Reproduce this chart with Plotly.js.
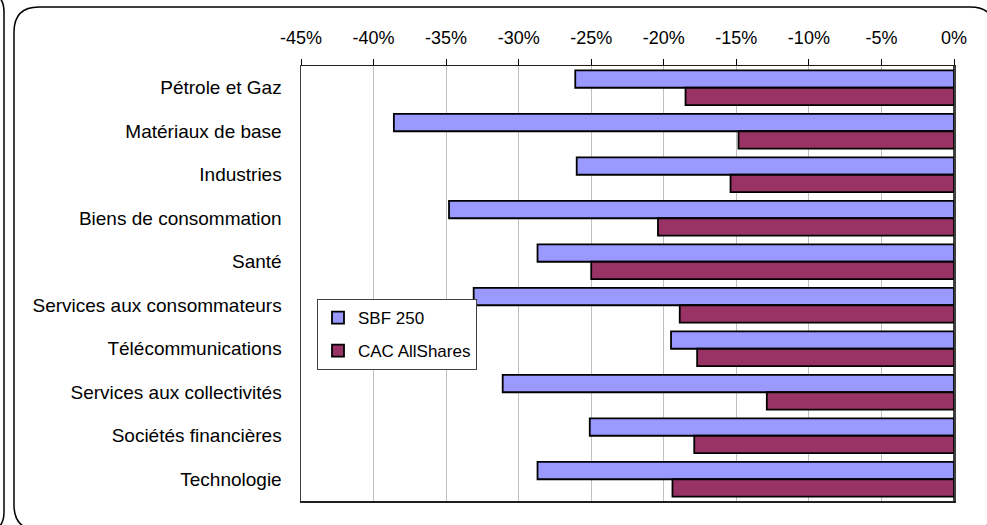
<!DOCTYPE html>
<html>
<head>
<meta charset="utf-8">
<script src="https://cdn.plot.ly/plotly-3.0.1.min.js"></script>
<style>html,body{margin:0;padding:0;background:#fff;}#chart{width:987px;height:525px;}</style>
</head>
<body>
<div id="chart"></div>
<script>
var categories = ["Pétrole et Gaz", "Matériaux de base", "Industries", "Biens de consommation", "Santé",
  "Services aux consommateurs", "Télécommunications", "Services aux collectivités", "Sociétés financières", "Technologie"];
var sbf250 = [-26.1, -38.6, -26.0, -34.8, -28.7, -33.1, -19.5, -31.1, -25.1, -28.7];
var cacAllShares = [-18.5, -14.85, -15.4, -20.4, -25.0, -18.9, -17.7, -12.9, -17.9, -19.4];
var tickValues = [-45, -40, -35, -30, -25, -20, -15, -10, -5, 0];
var tickLabels = ["-45%", "-40%", "-35%", "-30%", "-25%", "-20%", "-15%", "-10%", "-5%", "0%"];
var seriesNames = ["SBF 250", "CAC AllShares"];

var W = 987, H = 525, ML = 301, MR = 33, MT = 66, MB = 24;
var PW = W - ML - MR, PH = H - MT - MB;
function px(x) { return (x - ML) / PW; }
function py(y) { return (H - MB - y) / PH; }
function roundRect(x0, y0, x1, y1, r) {
  var p = [];
  p.push('M' + px(x0 + r) + ',' + py(y0));
  p.push('L' + px(x1 - r) + ',' + py(y0));
  p.push('Q' + px(x1) + ',' + py(y0) + ' ' + px(x1) + ',' + py(y0 + r));
  p.push('L' + px(x1) + ',' + py(y1 - r));
  p.push('Q' + px(x1) + ',' + py(y1) + ' ' + px(x1 - r) + ',' + py(y1));
  p.push('L' + px(x0 + r) + ',' + py(y1));
  p.push('Q' + px(x0) + ',' + py(y1) + ' ' + px(x0) + ',' + py(y1 - r));
  p.push('L' + px(x0) + ',' + py(y0 + r));
  p.push('Q' + px(x0) + ',' + py(y0) + ' ' + px(x0 + r) + ',' + py(y0));
  p.push('Z');
  return p.join(' ');
}

var font = "Liberation Sans, Arial, sans-serif";
var traces = [
  { type: 'bar', orientation: 'h', name: seriesNames[0], y: categories, x: sbf250,
    legendgroup: 'a',
    marker: { color: '#9999FF', line: { color: '#000000', width: 1.8 } }, hoverinfo: 'x+y' },
  { type: 'bar', orientation: 'h', name: seriesNames[1], y: categories, x: cacAllShares,
    legendgroup: 'b',
    marker: { color: '#993366', line: { color: '#000000', width: 1.8 } }, hoverinfo: 'x+y' }
];

var layout = {
  width: W, height: H,
  margin: { l: ML, r: MR, t: MT, b: MB, pad: 0 },
  paper_bgcolor: '#ffffff', plot_bgcolor: '#ffffff',
  font: { family: font, size: 18, color: '#000000' },
  barmode: 'group', bargap: 0.2, bargroupgap: 0,
  showlegend: true,
  legend: {
    x: px(317), y: py(299), xanchor: 'left', yanchor: 'top',
    bgcolor: '#ffffff', bordercolor: '#404040', borderwidth: 1,
    font: { family: font, size: 17, color: '#000000' },
    traceorder: 'grouped', tracegroupgap: 8, itemwidth: 30
  },
  xaxis: {
    side: 'top', range: [-45, 0], tickvals: tickValues, ticktext: tickLabels,
    showgrid: true, gridcolor: '#c0c0c0', gridwidth: 1,
    zeroline: true, zerolinecolor: '#404040', zerolinewidth: 1.5,
    showline: true, linecolor: '#202020', linewidth: 1.5, mirror: true,
    ticks: 'outside', ticklen: 6, tickcolor: '#000000', tickwidth: 1,
    tickfont: { family: font, size: 18, color: '#000000' },
    ticklabelstandoff: 7, fixedrange: true
  },
  yaxis: {
    type: 'category', autorange: 'reversed',
    showline: true, linecolor: '#404040', linewidth: 1.5, mirror: true,
    ticks: '', showgrid: false,
    tickfont: { family: font, size: 19, color: '#000000' },
    ticklabelstandoff: 14, fixedrange: true
  },
  yaxis2: {
    overlaying: 'y', side: 'right', anchor: 'x', type: 'linear',
    range: [9.5, -0.5], tickvals: [0.5, 1.5, 2.5, 3.5, 4.5, 5.5, 6.5, 7.5, 8.5],
    showticklabels: false, ticks: 'inside', ticklen: 5, tickcolor: '#000000', tickwidth: 1.2,
    showgrid: false, zeroline: false, showline: false, fixedrange: true
  },
  shapes: [
    { type: 'path', xref: 'paper', yref: 'paper', path: roundRect(14, 7, 995, 530, 25),
      line: { color: '#000000', width: 1.5 }, layer: 'above' },
    { type: 'path', xref: 'paper', yref: 'paper', path: roundRect(-100, -8, 4, 532, 20),
      line: { color: '#000000', width: 1.5 }, layer: 'above' }
  ]
};

Plotly.newPlot('chart', traces, layout, { displayModeBar: false, staticPlot: true });
</script>
</body>
</html>
